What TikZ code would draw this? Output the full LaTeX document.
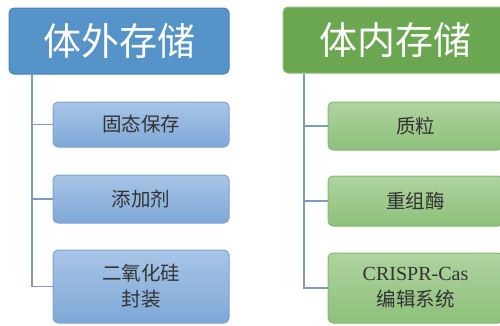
\documentclass[tikz,border=0pt]{standalone}
\usepackage{fontspec}
\setmainfont{Liberation Serif}
\newfontfamily\cjk{Noto Sans CJK SC}
\definecolor{hblue}{HTML}{5593C8}
\definecolor{hblueb}{HTML}{4A80BA}
\definecolor{hgreen}{HTML}{6BA751}
\definecolor{hgreenb}{HTML}{8CBD78}
\definecolor{cbtop}{HTML}{A8C5E6}
\definecolor{cbbot}{HTML}{7EA8D8}
\definecolor{cbb}{HTML}{7BA2D2}
\definecolor{cgtop}{HTML}{B0D3A0}
\definecolor{cgbot}{HTML}{8DC07A}
\definecolor{cgb}{HTML}{86B873}
\definecolor{conn}{HTML}{7E9BC6}
\definecolor{txt}{HTML}{333333}
\begin{document}
\begin{tikzpicture}[x=1pt,y=-1pt,
  head/.style={rounded corners=5pt, draw, line width=1pt, text=white, inner sep=0pt,
    font=\cjk\fontsize{38}{42}\selectfont, align=center},
  bluehead/.style={head, fill=hblue, draw=hblueb},
  greenhead/.style={head, fill=hgreen, draw=hgreenb},
  child/.style={rounded corners=5pt, draw, line width=1pt, text=txt, inner sep=0pt,
    font=\cjk\fontsize{19.5}{26}\selectfont, align=center},
  bluechild/.style={child, top color=cbtop, bottom color=cbbot, draw=cbb},
  greenchild/.style={child, top color=cgtop, bottom color=cgbot, draw=cgb},
  link/.style={draw=conn, line width=1.6pt}]
\useasboundingbox (0,0) rectangle (500,325);
\clip (0,0) rectangle (500,325);
% headers
\node[bluehead, minimum width=220pt, minimum height=66pt] (LH) at (119,41) {体外存储};
\node[greenhead, minimum width=224pt, minimum height=66pt] (RH) at (395,40) {体内存储};
% left children
\node[bluechild, minimum width=176pt, minimum height=45pt] (l1) at (141,124.5) {固态保存};
\node[bluechild, minimum width=176pt, minimum height=48pt] (l2) at (141,199) {添加剂};
\node[bluechild, minimum width=176pt, minimum height=73pt] (l3) at (141,286.5) {二氧化硅\\封装};
% right children
\node[greenchild, minimum width=175pt, minimum height=48pt] (r1) at (415.5,126) {质粒};
\node[greenchild, minimum width=175pt, minimum height=50pt] (r2) at (415.5,201) {重组酶};
\node[greenchild, minimum width=175pt, minimum height=70pt] (r3) at (415.5,288) {{\rmfamily\fontsize{20}{26}\selectfont CRISPR-Cas}\\编辑系统};
% connectors
\coordinate (ls) at (32,0);
\coordinate (rs) at (304,0);
\draw[link] (ls |- LH.south) -- (ls |- l3.west) -- (l3.west);
\draw[link] (ls |- l1.west) -- (l1.west);
\draw[link] (ls |- l2.west) -- (l2.west);
\draw[link] (rs |- RH.south) -- (rs |- r3.west) -- (r3.west);
\draw[link] (rs |- r1.west) -- (r1.west);
\draw[link] (rs |- r2.west) -- (r2.west);
\end{tikzpicture}
\end{document}
